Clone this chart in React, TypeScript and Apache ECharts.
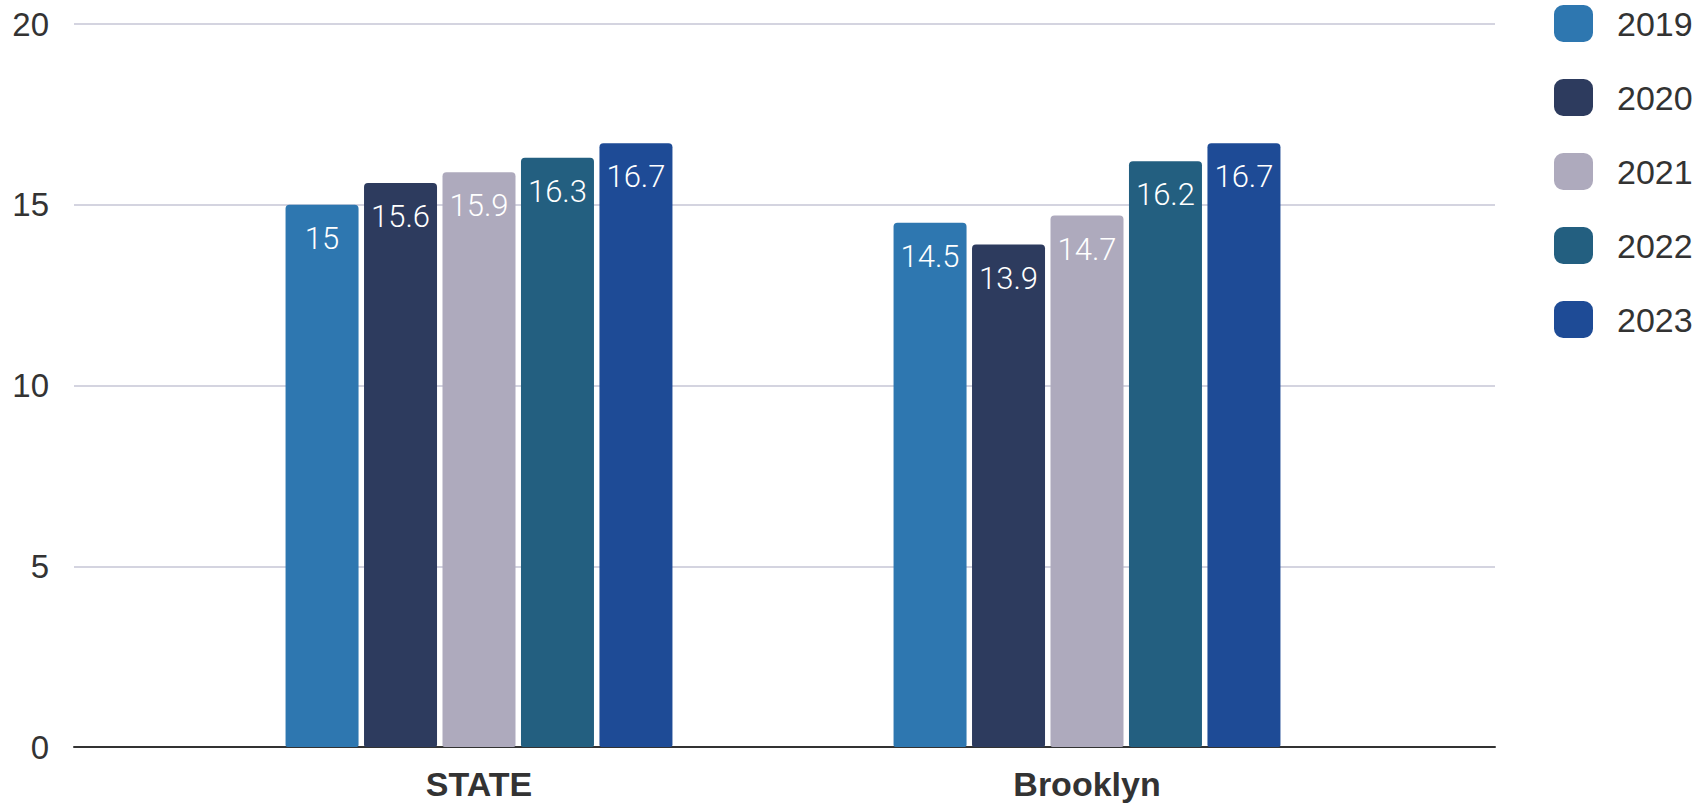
import React, { useEffect, useRef } from "react";
import * as echarts from "echarts";

const categories = ["STATE", "Brooklyn"];
const years = ["2019", "2020", "2021", "2022", "2023"];
const values2019 = [15, 14.5];
const values2020 = [15.6, 13.9];
const values2021 = [15.9, 14.7];
const values2022 = [16.3, 16.2];
const values2023 = [16.7, 16.7];
const yTicks = [0, 5, 10, 15, 20];
const colors = ["#2e77b0", "#2d3b5e", "#aeaabd", "#235f80", "#1e4b96"];

export default function App() {
  const ref = useRef<HTMLDivElement>(null);
  useEffect(() => {
    if (!ref.current) return;
    const chart = echarts.init(ref.current, undefined, { renderer: "svg" });
    const seriesValues = [values2019, values2020, values2021, values2022, values2023];
    const axisFont = "'Liberation Sans', Arial, sans-serif";
    chart.setOption({
      animation: false,
      backgroundColor: "#ffffff",
      grid: [
        { left: 74, right: 209, top: 24, bottom: 61 },
        { left: 175, right: 313, top: 24, bottom: 61 },
      ],
      xAxis: [
        {
          gridIndex: 0,
          type: "value",
          min: 0,
          max: 1,
          axisLine: { show: true, lineStyle: { color: "#333", width: 2 } },
          axisTick: { show: false },
          axisLabel: { show: false },
          splitLine: { show: false },
        },
        {
          gridIndex: 1,
          type: "category",
          data: categories,
          axisLine: { show: false },
          axisTick: { show: false },
          axisLabel: {
            fontSize: 34,
            fontWeight: "bold",
            color: "#333",
            fontFamily: axisFont,
            margin: 20,
          },
        },
      ],
      yAxis: [
        {
          gridIndex: 0,
          type: "value",
          min: yTicks[0],
          max: yTicks[yTicks.length - 1],
          interval: 5,
          axisLine: { show: false },
          axisTick: { show: false },
          axisLabel: { fontSize: 33, color: "#333", fontFamily: axisFont, margin: 25 },
          splitLine: { show: true, lineStyle: { color: "#c6c6d6", width: 1.5 } },
        },
        {
          gridIndex: 1,
          type: "value",
          min: 0,
          max: 20,
          interval: 5,
          show: false,
          splitLine: { show: false },
        },
      ],
      legend: {
        orient: "vertical",
        left: 1554,
        top: 5,
        padding: 0,
        itemWidth: 39,
        itemHeight: 37,
        itemGap: 37,
        icon: "roundRect",
        data: years,
        textStyle: {
          fontSize: 34,
          color: "#333",
          fontFamily: axisFont,
          padding: [0, 0, 0, 19],
        },
      },
      series: years.map((y, i) => ({
        name: y,
        type: "bar",
        xAxisIndex: 1,
        yAxisIndex: 1,
        data: seriesValues[i],
        barWidth: 73,
        barGap: "7.5%",
        itemStyle: { color: colors[i], borderRadius: [4, 4, 2, 2] },
        label: {
          show: true,
          position: "insideTop",
          distance: 18,
          color: "#ffffff",
          fontSize: 31,
          fontWeight: 300,
          fontFamily: "Roboto, sans-serif",
        },
      })),
    });
    return () => chart.dispose();
  }, []);
  return <div ref={ref} style={{ width: 1704, height: 808, position: "absolute", left: 0, top: 0 }} />;
}
